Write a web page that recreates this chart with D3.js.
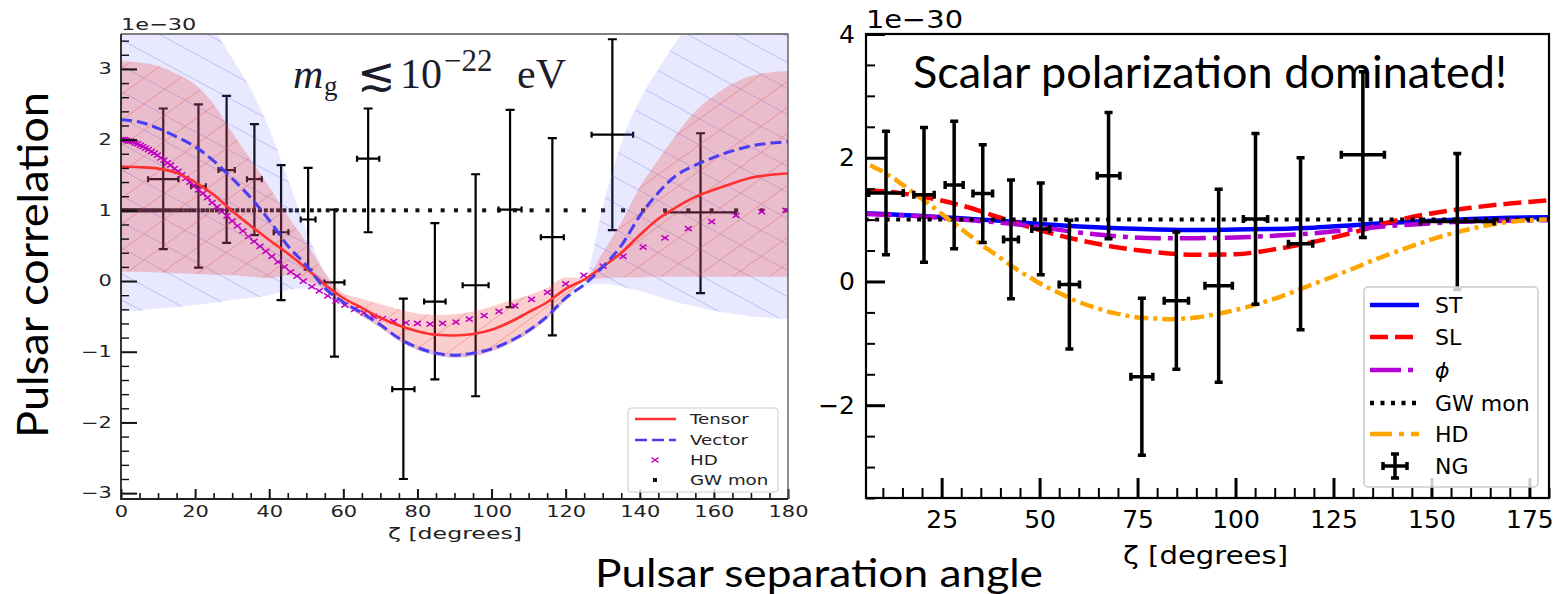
<!DOCTYPE html>
<html>
<head>
<meta charset="utf-8">
<script src="https://cdn.jsdelivr.net/npm/d3@7"></script>
<style>
  body { margin: 0; background: #fff; }
  svg { display: block; }
</style>
</head>
<body>
<svg id="fig" width="1555" height="594"></svg>
<script>
// ---------- left panel: tensor / vector fits (units of 1e-30) ----------
var gridA = [0, 5, 10, 15, 20, 25, 30, 35, 40, 45, 50, 55, 60, 65, 70, 75, 80, 85, 90,
             95, 100, 105, 110, 115, 120, 125, 130, 135, 140, 145, 150, 155, 160, 165, 170, 175, 180];
var tensorA = [1.62, 1.61, 1.59, 1.53, 1.40, 1.22, 0.99, 0.78, 0.58, 0.39, 0.18, -0.05, -0.24, -0.38, -0.52, -0.63, -0.71, -0.76, -0.77,
               -0.75, -0.69, -0.58, -0.44, -0.30, -0.11, 0.02, 0.20, 0.40, 0.65, 0.88, 1.05, 1.19, 1.29, 1.38, 1.46, 1.50, 1.52];
var vectorA = [2.28, 2.25, 2.16, 2.04, 1.90, 1.70, 1.45, 1.18, 0.86, 0.50, 0.22, -0.10, -0.30, -0.45, -0.62, -0.81, -0.94, -1.02, -1.05,
               -1.02, -0.96, -0.85, -0.70, -0.50, -0.24, -0.05, 0.20, 0.50, 0.92, 1.25, 1.50, 1.64, 1.75, 1.84, 1.91, 1.95, 1.97];
var tensorHi = [3.11, 3.09, 3.04, 2.93, 2.78, 2.50, 2.10, 1.72, 1.33, 0.92, 0.55, 0.12, -0.17, -0.25, -0.33, -0.40, -0.46, -0.48, -0.47,
                -0.43, -0.36, -0.28, -0.20, -0.10, 0.05, 0.04, 0.40, 0.83, 1.33, 1.72, 2.08, 2.40, 2.62, 2.79, 2.90, 2.95, 2.97];
var tensorLo = [0.13, 0.13, 0.12, 0.11, 0.10, 0.09, 0.08, 0.06, 0.04, 0.08, 0.00, -0.12, -0.33, -0.50, -0.66, -0.84, -0.97, -1.05, -1.08,
                -1.06, -0.99, -0.88, -0.73, -0.53, -0.26, 0.00, 0.04, 0.05, 0.05, 0.06, 0.06, 0.06, 0.06, 0.06, 0.06, 0.06, 0.06];
var vectorHi = [6.0, 5.8, 5.4, 4.9, 4.2, 3.6, 3.15, 2.72, 2.15, 1.45, 0.72, 0.12, -0.26, -0.42, -0.59, -0.78, -0.91, -0.99, -1.02,
                -0.99, -0.93, -0.82, -0.67, -0.47, -0.21, -0.02, 1.05, 1.95, 2.56, 3.0, 3.4, 3.7, 3.95, 4.2, 4.4, 4.5, 4.6];
var vectorLo = [-0.43, -0.42, -0.39, -0.37, -0.34, -0.31, -0.27, -0.24, -0.20, -0.13, -0.10, -0.15, -0.34, -0.49, -0.66, -0.85, -0.98, -1.06, -1.09,
                -1.06, -1.00, -0.89, -0.74, -0.54, -0.28, -0.08, -0.04, -0.08, -0.14, -0.22, -0.30, -0.36, -0.42, -0.46, -0.50, -0.52, -0.54];

// Hellings-Downs points (both panels)
var hdX = [0, 0.5, 1, 1.5, 2, 2.6, 3.2, 3.8, 4.5, 5.2, 5.9, 6.6, 7.4, 8.2, 9, 9.8, 10.7, 11.6, 12.5, 13.4,
           14.4, 15.4, 16.4, 17.5, 18.6, 19.7, 20.9, 22.1, 23.3, 24.6, 25.9, 27.2, 28.6, 30, 31.4, 32.9, 34.4, 35.9, 37.5, 39.1,
           40.7, 42.4, 44.1, 45.8, 47.5, 49.2, 51.5, 53.5, 55.8, 58, 60.4, 63, 65.6, 68.1, 70.6, 73.6, 76.9, 80, 83.4, 86.8,
           90.4, 94, 98, 102, 106.3, 110.8, 115.1, 120, 124.9, 130.1, 135.5, 140.9, 146.8, 153.1, 159.4, 166, 172.9, 179.4];
var hdY = [2.00, 2.00, 2.00, 1.99, 1.98, 1.98, 1.97, 1.95, 1.94, 1.92, 1.90, 1.88, 1.86, 1.83, 1.81, 1.78, 1.74, 1.71, 1.67, 1.64,
           1.59, 1.55, 1.50, 1.45, 1.40, 1.35, 1.29, 1.24, 1.18, 1.11, 1.05, 0.98, 0.92, 0.85, 0.78, 0.71, 0.63, 0.56, 0.49, 0.42,
           0.35, 0.27, 0.20, 0.13, 0.07, 0.00, -0.08, -0.14, -0.21, -0.28, -0.34, -0.40, -0.45, -0.50, -0.53, -0.57, -0.59, -0.60, -0.61, -0.60,
           -0.58, -0.54, -0.49, -0.43, -0.35, -0.26, -0.16, -0.04, 0.08, 0.21, 0.35, 0.48, 0.61, 0.74, 0.84, 0.93, 0.98, 1.00];
var gwMon = 1.0;

// NANOGrav binned correlations, left panel
var ngAx    = [11.4, 20.9, 28.5, 36.0, 43.2, 50.5, 57.6, 66.7, 76.2, 84.7, 95.7, 105.0, 116.4, 132.6, 156.4];
var ngAxErr = [4.1, 2.0, 2.2, 2.0, 2.0, 2.0, 2.7, 3.0, 3.0, 2.9, 3.5, 3.1, 3.1, 5.6, 9.5];
var ngAy    = [1.44, 1.34, 1.57, 1.44, 0.69, 0.87, -0.02, 1.73, -1.53, -0.29, -0.06, 1.01, 0.62, 2.07, 0.97];
var ngAyLo  = [0.45, 0.19, 0.54, 0.65, -0.27, 0.16, -1.07, 0.69, -2.80, -1.39, -1.63, -0.37, -0.77, 0.72, -0.17];
var ngAyHi  = [2.44, 2.50, 2.62, 2.22, 1.64, 1.60, 1.01, 2.44, -0.25, 0.82, 1.51, 2.42, 2.02, 3.42, 2.09];

// ---------- right panel: scalar polarizations ----------
var curveBx = [5.7, 10, 20, 30, 40, 50, 60, 70, 80, 90, 100, 110, 120, 130, 140, 150, 160, 170, 180];
var stB  = [1.10, 1.09, 1.06, 1.02, 0.98, 0.93, 0.89, 0.86, 0.84, 0.83, 0.84, 0.85, 0.87, 0.91, 0.95, 0.98, 1.01, 1.03, 1.04];
var slB  = [1.47, 1.46, 1.37, 1.23, 1.03, 0.83, 0.67, 0.55, 0.47, 0.43, 0.44, 0.52, 0.64, 0.79, 0.97, 1.10, 1.19, 1.26, 1.31];
var phiB = [1.09, 1.08, 1.05, 1.00, 0.95, 0.88, 0.79, 0.73, 0.70, 0.70, 0.71, 0.74, 0.78, 0.84, 0.90, 0.94, 0.97, 0.98, 0.99];

var ngBx    = [10.8, 20.5, 28.2, 35.5, 42.7, 50.3, 57.6, 67.6, 76.1, 84.9, 95.7, 105.1, 116.6, 132.5, 156.6];
var ngBxErr = [4.4, 2.6, 2.3, 2.5, 1.9, 2.3, 2.6, 2.9, 2.8, 3.1, 3.5, 3.1, 3.1, 5.5, 9.4];
var ngBy    = [1.43, 1.40, 1.56, 1.42, 0.68, 0.85, -0.05, 1.71, -1.54, -0.31, -0.07, 1.01, 0.61, 2.05, 0.97];
var ngByErr = [1.00, 1.09, 1.03, 0.79, 0.96, 0.74, 1.04, 1.02, 1.27, 1.11, 1.56, 1.38, 1.39, 1.34, 1.10];

var legendA = ["Tensor", "Vector", "HD", "GW mon"];
var legendB = ["ST", "SL", "\u03d5", "GW mon", "HD", "NG"];

var svg = d3.select("#fig");
var defs = svg.append("defs");

// ---------- scales ----------
var xA = d3.scaleLinear().domain([0, 180]).range([121, 788]);
var yA = d3.scaleLinear().domain([-3.083, 3.494]).range([499, 34]);
var xB = d3.scaleLinear().domain([5.7, 180]).range([866, 1549]);
var yB = d3.scaleLinear().domain([-3.5, 4]).range([498, 34]);

defs.append("clipPath").attr("id", "clipA").append("rect")
    .attr("x", 121).attr("y", 34).attr("width", 667).attr("height", 465);
defs.append("clipPath").attr("id", "clipB").append("rect")
    .attr("x", 866).attr("y", 34).attr("width", 683).attr("height", 464);

var hb = defs.append("pattern").attr("id", "hatchBlue")
    .attr("patternUnits", "userSpaceOnUse").attr("width", 48).attr("height", 26);
hb.append("path").attr("d", "M0,0L48,26M-48,0L0,26M48,0L96,26")
    .attr("stroke", "rgba(80,80,235,0.28)").attr("stroke-width", 1);
var hr = defs.append("pattern").attr("id", "hatchRed")
    .attr("patternUnits", "userSpaceOnUse").attr("width", 36).attr("height", 26);
hr.append("path").attr("d", "M0,26L36,0M-36,26L0,0M36,26L72,0")
    .attr("stroke", "rgba(235,60,60,0.35)").attr("stroke-width", 1);

// ---------- helpers ----------
function errorbars(g, xs, xe, ys, lo, hi, x, y, lw, capW, capH, color) {
  var eb = g.append("g").attr("stroke", color).attr("stroke-width", lw).attr("fill", "none");
  xs.forEach(function(d, i) {
    var px = x(d), py = y(ys[i]), y0 = y(lo[i]), y1 = y(hi[i]);
    var xl = x(d - xe[i]), xr = x(d + xe[i]);
    eb.append("path").attr("d",
      "M" + px + "," + y0 + "V" + y1 +
      "M" + (px - capW) + "," + y0 + "H" + (px + capW) +
      "M" + (px - capW) + "," + y1 + "H" + (px + capW) +
      "M" + xl + "," + py + "H" + xr +
      "M" + xl + "," + (py - capH) + "V" + (py + capH) +
      "M" + xr + "," + (py - capH) + "V" + (py + capH));
  });
}

function ticksOnly(g, axis) {
  g.call(axis);
  g.select(".domain").remove();
  return g;
}

// ================= LEFT PANEL =================
var gA = svg.append("g");
var dataA = gridA.map(function(d, i) {
  return {x: d, t: tensorA[i], v: vectorA[i], tl: tensorLo[i], th: tensorHi[i], vl: vectorLo[i], vh: vectorHi[i]};
});

var plotA = gA.append("g").attr("clip-path", "url(#clipA)");

// data behind bands
errorbars(plotA, ngAx, ngAxErr, ngAy, ngAyLo, ngAyHi, xA, yA, 2.2, 4.5, 3, "#000");

plotA.selectAll(".gw").data(hdX).enter().append("rect")
    .attr("x", function(d) { return xA(d) - 2; })
    .attr("y", yA(gwMon) - 2)
    .attr("width", 4).attr("height", 4)
    .attr("fill", "#111");

var bandV = d3.area().curve(d3.curveMonotoneX)
    .x(function(d) { return xA(d.x); })
    .y0(function(d) { return yA(d.vl); })
    .y1(function(d) { return yA(d.vh); });
var bandT = d3.area().curve(d3.curveMonotoneX)
    .x(function(d) { return xA(d.x); })
    .y0(function(d) { return yA(d.tl); })
    .y1(function(d) { return yA(d.th); });

plotA.append("path").attr("d", bandV(dataA)).attr("fill", "rgba(110,110,250,0.16)");
plotA.append("path").attr("d", bandV(dataA)).attr("fill", "url(#hatchBlue)");
plotA.append("path").attr("d", bandT(dataA)).attr("fill", "rgba(240,60,60,0.25)");
plotA.append("path").attr("d", bandT(dataA)).attr("fill", "url(#hatchRed)");

plotA.selectAll(".hd").data(hdX).enter().append("path")
    .attr("transform", function(d, i) { return "translate(" + xA(d) + "," + yA(hdY[i]) + ")"; })
    .attr("d", "M-3.5,-2.5L3.5,2.5M-3.5,2.5L3.5,-2.5")
    .attr("stroke", "#c000c0").attr("stroke-width", 1.5).attr("fill", "none");

var lineT = d3.line().curve(d3.curveMonotoneX)
    .x(function(d) { return xA(d.x); }).y(function(d) { return yA(d.t); });
var lineV = d3.line().curve(d3.curveMonotoneX)
    .x(function(d) { return xA(d.x); }).y(function(d) { return yA(d.v); });

plotA.append("path").attr("d", lineT(dataA)).attr("fill", "none")
    .attr("stroke", "#ff3030").attr("stroke-width", 2.6);
plotA.append("path").attr("d", lineV(dataA)).attr("fill", "none")
    .attr("stroke", "#4a3df2").attr("stroke-width", 3).attr("stroke-dasharray", "11,5");

// axes (ticks inward, text stretched horizontally like the source image)
var minorXA = d3.range(0, 181, 5).filter(function(d) { return d % 20 !== 0; });
var minorYA = d3.range(-30, 35, 2).map(function(d) { return d / 10; }).filter(function(d) { return Math.abs(d - Math.round(d)) > 1e-6; });

ticksOnly(gA.append("g").attr("transform", "translate(0,499)"),
    d3.axisBottom(xA).tickValues(minorXA).tickSize(-6).tickFormat(""))
  .selectAll("line").attr("stroke", "#111").attr("stroke-width", 1.6);
var axXA = ticksOnly(gA.append("g").attr("transform", "translate(0,499)"),
    d3.axisBottom(xA).tickValues(d3.range(0, 181, 20)).tickSize(-10).tickPadding(7));
axXA.selectAll("line").attr("stroke", "#111").attr("stroke-width", 2);
axXA.selectAll("text").attr("transform", "scale(1.4,1)")
    .style("font-family", "DejaVu Sans").style("font-size", "15px").attr("fill", "#222");

ticksOnly(gA.append("g").attr("transform", "translate(121,0)"),
    d3.axisLeft(yA).tickValues(minorYA).tickSize(-8).tickFormat(""))
  .selectAll("line").attr("stroke", "#111").attr("stroke-width", 1.4);
var axYA = ticksOnly(gA.append("g").attr("transform", "translate(121,0)"),
    d3.axisLeft(yA).tickValues([-3, -2, -1, 0, 1, 2, 3]).tickSize(-16).tickPadding(6.5)
      .tickFormat(function(d) { return d < 0 ? "\u2212" + Math.abs(d) : d; }));
axYA.selectAll("line").attr("stroke", "#111").attr("stroke-width", 2);
axYA.selectAll("text").attr("transform", "scale(1.4,1)")
    .style("font-family", "DejaVu Sans").style("font-size", "15px").attr("fill", "#222");

// spines
gA.append("path").attr("d", "M121,34H788V499").attr("fill", "none").attr("stroke", "#555").attr("stroke-width", 1.3);
gA.append("path").attr("d", "M121,34V499H788").attr("fill", "none").attr("stroke", "#222").attr("stroke-width", 1.8);

gA.append("text").attr("transform", "translate(121,30) scale(1.4,1)")
    .style("font-family", "DejaVu Sans").style("font-size", "16px").attr("fill", "#222")
    .text("1e\u221230");
gA.append("text").attr("x", 455).attr("y", 539).attr("text-anchor", "middle")
    .attr("textLength", 134).attr("lengthAdjust", "spacingAndGlyphs")
    .style("font-family", "DejaVu Sans").style("font-size", "15px").attr("fill", "#222")
    .text("\u03b6 [degrees]");

// m_g label
var mg = gA.append("g").style("font-family", "Liberation Serif").attr("fill", "#1c1c2a");
mg.append("text").attr("x", 293).attr("y", 88).style("font-size", "42px").style("font-style", "italic").text("m");
mg.append("text").attr("x", 324).attr("y", 95).style("font-size", "27px").text("g");
mg.append("text").attr("x", 357).attr("y", 90).style("font-size", "46px").style("font-family", "DejaVu Serif").text("\u2272");
mg.append("text").attr("x", 400).attr("y", 88).style("font-size", "42px").text("10");
mg.append("text").attr("x", 444).attr("y", 71).style("font-size", "31px").text("\u221222");
mg.append("text").attr("x", 517).attr("y", 88).style("font-size", "42px").text("eV");

// legend
var lgA = gA.append("g");
lgA.append("rect").attr("x", 628).attr("y", 408).attr("width", 150).attr("height", 84).attr("rx", 3)
    .attr("fill", "rgba(255,255,255,0.8)").attr("stroke", "#ccc");
var lyA = [419, 440, 460, 480];
lgA.append("line").attr("x1", 635).attr("x2", 676).attr("y1", lyA[0]).attr("y2", lyA[0])
    .attr("stroke", "#ff3030").attr("stroke-width", 2.4);
lgA.append("line").attr("x1", 635).attr("x2", 676).attr("y1", lyA[1]).attr("y2", lyA[1])
    .attr("stroke", "#4a3df2").attr("stroke-width", 2.6).attr("stroke-dasharray", "12,5");
lgA.append("path").attr("transform", "translate(655," + lyA[2] + ")")
    .attr("d", "M-3.5,-2.5L3.5,2.5M-3.5,2.5L3.5,-2.5").attr("stroke", "#c000c0").attr("stroke-width", 1.5);
lgA.append("rect").attr("x", 653).attr("y", lyA[3] - 2).attr("width", 4).attr("height", 4).attr("fill", "#111");
legendA.forEach(function(d, i) {
  lgA.append("text").attr("transform", "translate(690," + lyA[i] + ") scale(1.35,1)")
      .attr("dy", "0.36em")
      .style("font-family", "DejaVu Sans").style("font-size", "13.5px").attr("fill", "#222")
      .text(d);
});

// ================= RIGHT PANEL =================
var gB = svg.append("g");
var plotB = gB.append("g").attr("clip-path", "url(#clipB)");

function curveB(vals) {
  return d3.line().curve(d3.curveMonotoneX)
    .x(function(d, i) { return xB(curveBx[i]); })
    .y(function(d) { return yB(d); })(vals);
}
plotB.append("path").attr("d", curveB(stB)).attr("fill", "none")
    .attr("stroke", "#0000ff").attr("stroke-width", 4.5);
plotB.append("path").attr("d", curveB(slB)).attr("fill", "none")
    .attr("stroke", "#ff0000").attr("stroke-width", 4.5).attr("stroke-dasharray", "18,7");
plotB.append("path").attr("d", curveB(phiB)).attr("fill", "none")
    .attr("stroke", "#b400d4").attr("stroke-width", 4.5).attr("stroke-dasharray", "26,7,5,7");
plotB.append("path")
    .attr("d", d3.line().x(function(d) { return xB(d); }).y(yB(gwMon))([0, 180]))
    .attr("fill", "none").attr("stroke", "#000").attr("stroke-width", 4).attr("stroke-dasharray", "4,6.5");
plotB.append("path")
    .attr("d", d3.line().curve(d3.curveMonotoneX)
      .x(function(d) { return xB(d); }).y(function(d, i) { return yB(hdY[i]); })(hdX))
    .attr("fill", "none").attr("stroke", "#ffa500").attr("stroke-width", 4.5).attr("stroke-dasharray", "14,5,4,5");

var ngBLo = ngBy.map(function(d, i) { return d - ngByErr[i]; });
var ngBHi = ngBy.map(function(d, i) { return d + ngByErr[i]; });
errorbars(plotB, ngBx, ngBxErr, ngBy, ngBLo, ngBHi, xB, yB, 3.5, 4, 4, "#000");

var minorXB = d3.range(10, 181, 5).filter(function(d) { return d % 25 !== 0; });
var minorYB = [-3, -1, 1, 3, -3.5, -2.5, -1.5, -0.5, 0.5, 1.5, 2.5, 3.5];

ticksOnly(gB.append("g").attr("transform", "translate(0,498)"),
    d3.axisBottom(xB).tickValues(minorXB).tickSize(-10).tickFormat(""))
  .selectAll("line").attr("stroke", "#000").attr("stroke-width", 2);
var axXB = ticksOnly(gB.append("g").attr("transform", "translate(0,498)"),
    d3.axisBottom(xB).tickValues([25, 50, 75, 100, 125, 150, 175]).tickSize(-20).tickPadding(12));
axXB.selectAll("line").attr("stroke", "#000").attr("stroke-width", 3);
axXB.selectAll("text").style("font-family", "DejaVu Sans").style("font-size", "25px").attr("fill", "#000");

ticksOnly(gB.append("g").attr("transform", "translate(866,0)"),
    d3.axisLeft(yB).tickValues(minorYB).tickSize(-9).tickFormat(""))
  .selectAll("line").attr("stroke", "#000").attr("stroke-width", 2);
var axYB = ticksOnly(gB.append("g").attr("transform", "translate(866,0)"),
    d3.axisLeft(yB).tickValues([-2, 0, 2, 4]).tickSize(-19).tickPadding(11)
      .tickFormat(function(d) { return d < 0 ? "\u2212" + Math.abs(d) : d; }));
axYB.selectAll("line").attr("stroke", "#000").attr("stroke-width", 3);
axYB.selectAll("text").style("font-family", "DejaVu Sans").style("font-size", "25px").attr("fill", "#000");

gB.append("rect").attr("x", 866).attr("y", 34).attr("width", 683).attr("height", 464)
    .attr("fill", "none").attr("stroke", "#000").attr("stroke-width", 2.2);

gB.append("text").attr("x", 866).attr("y", 28)
    .attr("textLength", 97).attr("lengthAdjust", "spacingAndGlyphs")
    .style("font-family", "DejaVu Sans").style("font-size", "25px").text("1e\u221230");
gB.append("text").attr("x", 1205.5).attr("y", 564).attr("text-anchor", "middle")
    .attr("textLength", 165).attr("lengthAdjust", "spacingAndGlyphs")
    .style("font-family", "DejaVu Sans").style("font-size", "25px").text("\u03b6 [degrees]");

// legend
var lgB = gB.append("g");
lgB.append("rect").attr("x", 1364).attr("y", 287).attr("width", 174).attr("height", 200).attr("rx", 4)
    .attr("fill", "rgba(255,255,255,0.8)").attr("stroke", "#ccc").attr("stroke-width", 1.5);
var lyB = [305, 337, 370, 403, 434, 466];
var lsB = [
  {c: "#0000ff", dash: null},
  {c: "#ff0000", dash: "18,7"},
  {c: "#b400d4", dash: "31,7,5,7"},
  {c: "#000", dash: "4,6.5"},
  {c: "#ffa500", dash: "22,7,5,7"}
];
lsB.forEach(function(s, i) {
  lgB.append("line").attr("x1", 1370).attr("x2", 1419).attr("y1", lyB[i]).attr("y2", lyB[i])
      .attr("stroke", s.c).attr("stroke-width", 4.5).attr("stroke-dasharray", s.dash);
});
lgB.append("path")
    .attr("d", "M1395,454V478M1391,454H1399M1391,478H1399M1383,466H1407M1383,462V470M1407,462V470")
    .attr("stroke", "#000").attr("stroke-width", 3.5).attr("fill", "none");
legendB.forEach(function(d, i) {
  lgB.append("text").attr("x", 1435).attr("y", lyB[i]).attr("dy", "0.36em")
      .style("font-family", "DejaVu Sans").style("font-size", "22px")
      .style("font-style", i === 2 ? "italic" : "normal")
      .text(d);
});

// ================= slide annotations =================
svg.append("text").attr("x", 913).attr("y", 88)
    .attr("textLength", 594).attr("lengthAdjust", "spacingAndGlyphs")
    .style("font-family", "Lato").style("font-size", "44px").text("Scalar polarization dominated!");
svg.append("text").attr("transform", "translate(48,265) rotate(-90)").attr("text-anchor", "middle")
    .attr("textLength", 346).attr("lengthAdjust", "spacingAndGlyphs")
    .style("font-family", "Lato").style("font-size", "42px").text("Pulsar correlation");
svg.append("text").attr("x", 819).attr("y", 587).attr("text-anchor", "middle")
    .attr("textLength", 448).attr("lengthAdjust", "spacingAndGlyphs")
    .style("font-family", "Lato").style("font-size", "38px").text("Pulsar separation angle");
</script>
</body>
</html>
